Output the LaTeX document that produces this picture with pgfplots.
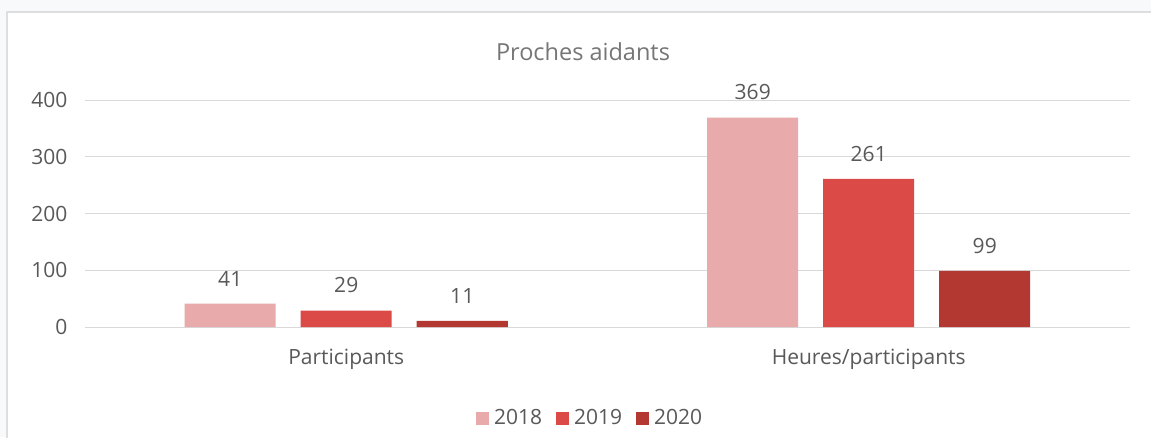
\documentclass[border=0pt]{standalone}
\usepackage{pgfplots}
\pgfplotsset{compat=1.18}
\usepackage{fontspec}
\setmainfont{Open Sans}
\definecolor{c18}{RGB}{232,170,170}
\definecolor{c19}{RGB}{220,74,71}
\definecolor{c20}{RGB}{180,56,50}
\definecolor{txtgray}{RGB}{89,89,89}
\definecolor{titlegray}{RGB}{118,118,118}
\definecolor{gridc}{RGB}{217,217,217}
\definecolor{bgout}{RGB}{248,249,251}
\definecolor{framec}{RGB}{222,222,222}
\begin{document}
\begin{tikzpicture}[x=1pt,y=1pt]
\begin{scope}
\clip (0,0) rectangle (1151,437);
\fill[bgout] (0,0) rectangle (1151,437);
\draw[framec, fill=white, line width=1.5pt] (7,-10) rectangle (1170,425);
\end{scope}
\useasboundingbox (0,0) rectangle (1151,437);
\node[text=titlegray, font=\fontsize{23.5}{28}\selectfont] at (583,385) {Proches aidants};
\begin{axis}[
  at={(85pt,110pt)}, anchor=south west,
  scale only axis, width=1045pt, height=227pt,
  ymin=0, ymax=400, xmin=-0.5, xmax=1.5,
  xtick={0,1}, xticklabels={Participants, Heures/participants},
  ytick={0,100,200,300,400},
  /pgf/number format/assume math mode=true,
  ybar=25pt, bar width=91pt,
  axis line style={draw=none},
  major tick length=0pt,
  ymajorgrids, grid style={gridc, line width=1pt},
  tick label style={text=txtgray, font=\fontsize{21}{25}\selectfont},
  yticklabel style={xshift=-14pt},
  xticklabel style={yshift=-19pt},
  nodes near coords,
  every node near coord/.append style={text=txtgray, font=\fontsize{21}{25}\selectfont, yshift=14pt},
  legend columns=3,
  legend style={at={(0.4833,-0.401)}, anchor=center, draw=none, fill=none,
    font=\fontsize{21}{25}\selectfont, text=txtgray,
    /tikz/every odd column/.append style={column sep=3pt},
    /tikz/every even column/.append style={column sep=12pt}},
  legend image code/.code={\fill[#1] (0pt,-6.5pt) rectangle (13pt,6.5pt);},
]
\addplot[fill=c18, draw=none] coordinates {(0,41) (1,369)};
\addplot[fill=c19, draw=none] coordinates {(0,29) (1,261)};
\addplot[fill=c20, draw=none] coordinates {(0,11) (1,99)};
\legend{2018,2019,2020}
\end{axis}
\end{tikzpicture}
\end{document}
